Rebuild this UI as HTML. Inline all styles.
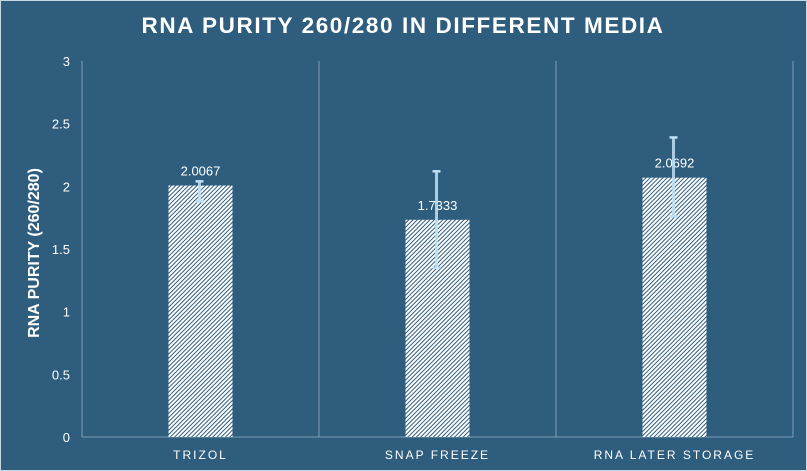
<!DOCTYPE html>
<html><head><meta charset="utf-8"><style>
body{margin:0;background:#2e5d7e;}
svg{display:block;font-family:"Liberation Sans",sans-serif;}
</style></head><body>
<svg width="807" height="471" viewBox="0 0 807 471" xmlns="http://www.w3.org/2000/svg">
<defs>
<pattern id="hatch" patternUnits="userSpaceOnUse" width="3" height="3" patternTransform="rotate(45)">
<rect width="3" height="3" fill="#ffffff"/>
<rect width="1" height="3" fill="#2e5d7e"/>
</pattern>
</defs>
<rect width="807" height="471" fill="#2e5d7e"/>
<rect x="0.5" y="0.5" width="806" height="470" fill="none" stroke="#c9d6e0" stroke-width="1"/>
<text x="403" y="33" text-anchor="middle" fill="#fff" font-size="22.5" font-weight="bold" letter-spacing="1.6">RNA PURITY 260/280 IN DIFFERENT MEDIA</text>
<text transform="translate(39,253) rotate(-90)" text-anchor="middle" fill="#fff" font-size="16" font-weight="bold">RNA PURITY (260/280)</text>
<g id="plot"></g>
</svg>
<script>
const categories=["TRIZOL","SNAP FREEZE","RNA LATER STORAGE"];
const values=[2.0067,1.7333,2.0692];
const labels=["2.0067","1.7333","2.0692"];
const errUpper=[2.04,2.12,2.39];
const errLower=[1.88,1.35,1.76];
const yTicks=[0,0.5,1,1.5,2,2.5,3];
const yTickLabels=["0","0.5","1","1.5","2","2.5","3"];
const ns="http://www.w3.org/2000/svg";
const g=document.getElementById('plot');
const X0=82,X1=793,Y0=437,Y1=61,ymax=3;
const bw=(X1-X0)/categories.length;
const y=v=>Y0-(v/ymax)*(Y0-Y1);
const xc=i=>X0+bw*(i+0.5);
function mk(t,a){const e=document.createElementNS(ns,t);for(const k in a)e.setAttribute(k,a[k]);g.appendChild(e);return e;}
yTicks.forEach((t,i)=>{
 const e=mk('text',{x:70,y:y(t)+5,'text-anchor':'end',fill:'#fff','font-size':13});
 e.textContent=yTickLabels[i];
 
 
});
for(let i=0;i<=categories.length;i++){
 const l=mk('line',{x1:X0+bw*i,x2:X0+bw*i,y1:Y1,y2:Y0,stroke:'#7f9fb8','stroke-width':1});
 
 
}
const ax=mk('line',{x1:X0,x2:X1,y1:Y0,y2:Y0,stroke:'#7f9fb8','stroke-width':1});


categories.forEach((c,i)=>{
 const w=64,cx=xc(i);
 const b=mk('rect',{x:cx-w/2,y:y(values[i]),width:w,height:Y0-y(values[i]),fill:'url(#hatch)'});
 
 
 const lt=mk('text',{x:cx,y:y(values[i])-10,'text-anchor':'middle',fill:'#fff','font-size':13});
 lt.textContent=labels[i];
 
 
 const ex=cx-1;
 const eb=mk('line',{x1:ex,x2:ex,y1:y(errUpper[i]),y2:y(errLower[i]),stroke:'#bfe0f5','stroke-width':3,'stroke-opacity':0.85});
 
 
 [errUpper[i],errLower[i]].forEach(v=>{
  const cap=mk('line',{x1:ex-4,x2:ex+4,y1:y(v),y2:y(v),stroke:'#bfe0f5','stroke-width':2.5});
  
  
 });
 const ct=mk('text',{x:cx,y:459,'text-anchor':'middle',fill:'#fff','font-size':12,'letter-spacing':2});
 ct.textContent=c;
 
 
});
</script>
</body></html>
